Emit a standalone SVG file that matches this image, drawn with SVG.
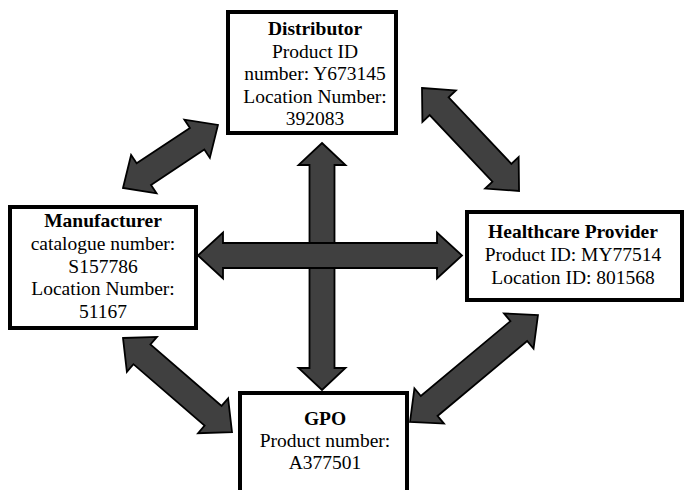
<svg xmlns="http://www.w3.org/2000/svg" width="685" height="490" viewBox="0 0 685 490">
<style>
.box{fill:#fff;stroke:#000;stroke-width:4}
.arr{fill:#404040;stroke:#000;stroke-width:1.8;stroke-linejoin:miter}
text{font-family:"Liberation Serif","Times New Roman",serif;font-size:19.5px;fill:#000;text-anchor:middle}
.b{font-weight:bold}
</style>
<rect width="685" height="490" fill="#fff"/>
<g id="connectors">
<path class="arr" transform="translate(322,143) rotate(90)" d="M0,0 L22,-23.5 L22,-12.5 L225,-12.5 L225,-23.5 L247,0 L225,23.5 L225,12.5 L22,12.5 L22,23.5 Z"/>
<path class="arr" transform="translate(198,255.5)" d="M0,0 L25,-23 L25,-12.5 L239,-12.5 L239,-23 L264,0 L239,23 L239,12.5 L25,12.5 L25,23 Z"/>
<path class="arr" transform="translate(123,188) rotate(-33.6)" d="M0,0 L25,-23 L25,-13 L89,-13 L89,-23 L114,0 L89,23 L89,13 L25,13 L25,23 Z"/>
<path class="arr" transform="translate(422,88) rotate(46.7)" d="M0,0 L25,-23 L25,-13 L116.5,-13 L116.5,-23 L141.5,0 L116.5,23 L116.5,13 L25,13 L25,23 Z"/>
<path class="arr" transform="translate(123,338) rotate(40.8)" d="M0,0 L25,-23 L25,-13 L119,-13 L119,-23 L144,0 L119,23 L119,13 L25,13 L25,23 Z"/>
<path class="arr" transform="translate(410,422) rotate(-39.9)" d="M0,0 L25,-23 L25,-13 L141.8,-13 L141.8,-23 L166.8,0 L141.8,23 L141.8,13 L25,13 L25,23 Z"/>
</g>
<g id="distributor">
<rect class="box" x="228" y="12" width="168" height="121"/>
<text x="315" y="35" class="b">Distributor</text>
<text x="315" y="57.5">Product ID</text>
<text x="315" y="80">number: Y673145</text>
<text x="315" y="102.5">Location Number:</text>
<text x="315" y="125">392083</text>
</g>
<g id="manufacturer">
<rect class="box" x="10" y="207" width="186" height="121"/>
<text x="103" y="227" class="b">Manufacturer</text>
<text x="103" y="250">catalogue number:</text>
<text x="103" y="272.5">S157786</text>
<text x="103" y="295">Location Number:</text>
<text x="103" y="317.5">51167</text>
</g>
<g id="healthcare">
<rect class="box" x="467" y="212" width="215" height="88"/>
<text x="573" y="238" class="b">Healthcare Provider</text>
<text x="573" y="261">Product ID: MY77514</text>
<text x="573" y="283.5">Location ID: 801568</text>
</g>
<g id="gpo">
<rect class="box" x="240" y="393" width="167" height="110"/>
<text x="325" y="425" class="b">GPO</text>
<text x="325" y="447">Product number:</text>
<text x="325" y="469">A377501</text>
</g>
</svg>
